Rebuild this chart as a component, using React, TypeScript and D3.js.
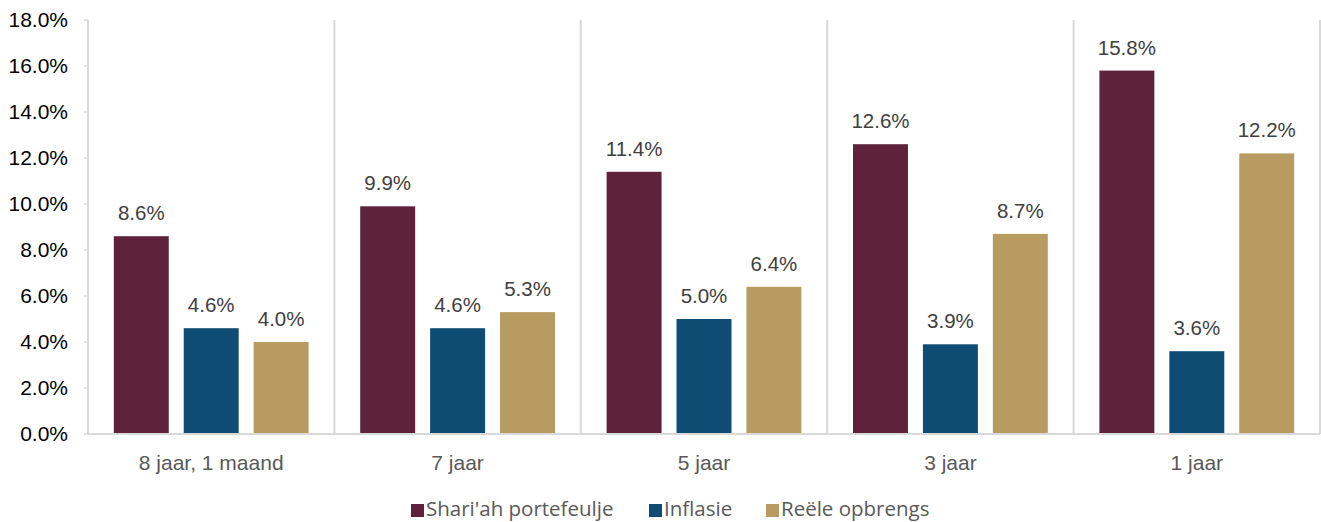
import React, { useEffect, useRef } from 'react';
import * as d3 from 'd3';

const categories = ['8 jaar, 1 maand', '7 jaar', '5 jaar', '3 jaar', '1 jaar'];
const seriesNames = ["Shari'ah portefeulje", 'Inflasie', 'Reële opbrengs'];
const shariah = [8.6, 9.9, 11.4, 12.6, 15.8];
const inflasie = [4.6, 4.6, 5.0, 3.9, 3.6];
const reele = [4.0, 5.3, 6.4, 8.7, 12.2];
const yTicks = [0, 2, 4, 6, 8, 10, 12, 14, 16, 18];
const colors = ['#5f223b', '#0e4c74', '#b89b61'];

const W = 1321;
const H = 522;
const FONT = '"Liberation Sans", Arial, sans-serif';

export default function App() {
  const ref = useRef<SVGSVGElement>(null);

  useEffect(() => {
    const svg = d3.select(ref.current);
    svg.selectAll('*').remove();

    const left = 88, right = 1320, top = 20, bottom = 434;
    const values = [shariah, inflasie, reele];

    const x = d3.scaleBand().domain(categories).range([left, right]).padding(0);
    const xs = d3.scaleBand().domain(seriesNames).range([0, x.bandwidth()])
      .paddingInner(0.214).paddingOuter(0.369);
    const y = d3.scaleLinear().domain([0, 18]).range([bottom, top]);

    // vertical separators between categories
    const seps = categories.map(c => x(c)!).concat([right]);
    svg.append('g').selectAll('line').data(seps).enter().append('line')
      .attr('x1', d => d).attr('x2', d => d)
      .attr('y1', top).attr('y2', bottom)
      .attr('stroke', '#d9d9d9').attr('stroke-width', 2);

    // y axis ticks + labels
    const ya = svg.append('g');
    ya.selectAll('line').data(yTicks).enter().append('line')
      .attr('x1', left - 4).attr('x2', left)
      .attr('y1', d => y(d)).attr('y2', d => y(d))
      .attr('stroke', '#d9d9d9').attr('stroke-width', 1.5);
    ya.selectAll('text').data(yTicks).enter().append('text')
      .attr('x', 68).attr('y', d => y(d)).attr('dy', '0.35em')
      .attr('text-anchor', 'end')
      .attr('font-family', FONT)
      .attr('font-size', 21).attr('fill', '#000')
      .text(d => d.toFixed(1) + '%');

    // bars
    seriesNames.forEach((s, si) => {
      const g = svg.append('g');
      g.selectAll('rect').data(values[si]).enter().append('rect')
        .attr('x', (d, i) => x(categories[i])! + xs(s)!)
        .attr('y', d => y(d))
        .attr('width', xs.bandwidth())
        .attr('height', d => bottom - y(d))
        .attr('fill', colors[si]);
      g.selectAll('text').data(values[si]).enter().append('text')
        .attr('x', (d, i) => x(categories[i])! + xs(s)! + xs.bandwidth() / 2)
        .attr('y', d => y(d) - 16)
        .attr('text-anchor', 'middle')
        .attr('font-family', FONT)
        .attr('font-size', 20.5).attr('fill', '#404040')
        .text(d => d.toFixed(1) + '%');
    });

    // baseline
    svg.append('line')
      .attr('x1', left).attr('x2', right).attr('y1', bottom).attr('y2', bottom)
      .attr('stroke', '#d9d9d9').attr('stroke-width', 2);

    // x labels
    svg.append('g').selectAll('text').data(categories).enter().append('text')
      .attr('x', d => x(d)! + x.bandwidth() / 2)
      .attr('y', 463).attr('dy', '0.35em')
      .attr('text-anchor', 'middle')
      .attr('font-family', FONT)
      .attr('font-size', 21).attr('fill', '#595959')
      .text(d => d);

    // legend
    const legendX = [411, 649, 766];
    const lg = svg.append('g');
    seriesNames.forEach((s, i) => {
      lg.append('rect').attr('x', legendX[i]).attr('y', 504)
        .attr('width', 13).attr('height', 13).attr('fill', colors[i]);
      lg.append('text').attr('x', legendX[i] + 15).attr('y', 516)
        .attr('font-family', '"Open Sans", sans-serif')
        .attr('font-size', 20.5).attr('fill', '#595959')
        .text(s);
    });
  }, []);

  return (
    <svg ref={ref} width={W} height={H}
      style={{ position: 'absolute', left: 0, top: 0, background: '#fff' }} />
  );
}
